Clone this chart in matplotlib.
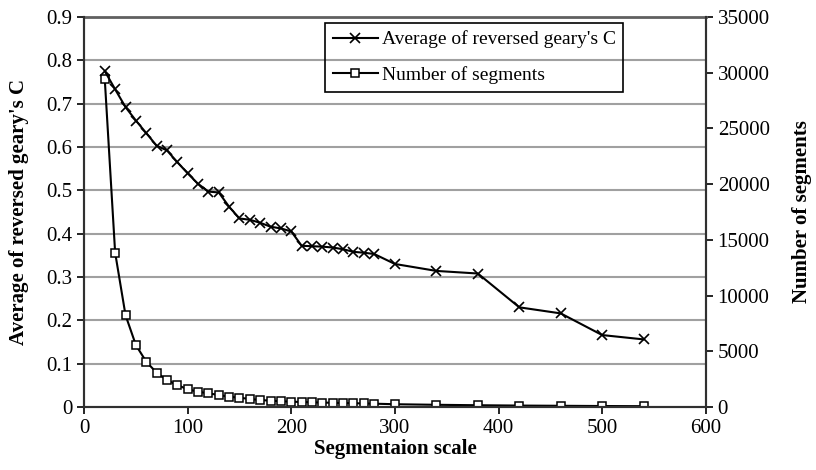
import numpy as np
import matplotlib.pyplot as plt

plt.rcParams['font.family'] = ['Liberation Serif', 'DejaVu Serif']

# segmentation scales
scale = [20, 30, 40, 50, 60, 70, 80, 90, 100, 110, 120, 130, 140, 150, 160,
         170, 180, 190, 200, 210, 220, 230, 240, 250, 260, 270, 280,
         300, 340, 380, 420, 460, 500, 540]

# average of reversed Geary's C (left axis)
geary = [0.775, 0.733, 0.692, 0.661, 0.632, 0.603, 0.592, 0.565, 0.539, 0.515,
         0.497, 0.495, 0.462, 0.435, 0.432, 0.425, 0.416, 0.412, 0.405, 0.372,
         0.371, 0.370, 0.368, 0.364, 0.358, 0.356, 0.353,
         0.330, 0.314, 0.308, 0.230, 0.216, 0.166, 0.156]

# number of segments (right axis)
nseg = [29400, 13850, 8250, 5560, 4070, 3080, 2420, 1970, 1590, 1370,
        1230, 1080, 920, 835, 720, 630, 565, 520, 480, 450,
        420, 400, 380, 360, 340, 320, 300,
        250, 200, 160, 130, 110, 90, 75]

fig = plt.figure(figsize=(8.16, 4.70), dpi=100)
ax = fig.add_axes([0.103, 0.134, 0.762, 0.830])
ax2 = ax.twinx()

ax.set_zorder(ax2.get_zorder() + 1)
ax.patch.set_visible(False)

l1, = ax.plot(scale, geary, color='black', lw=1.5, marker='x', ms=7.5, mew=1.2,
              label="Average of reversed geary's C")
l2, = ax2.plot(scale, nseg, color='black', lw=1.5, marker='s', ms=6,
               mfc='white', mew=1.1, label="Number of segments")

ax.set_xlim(0, 600)
ax.set_ylim(0, 0.9)
ax2.set_ylim(0, 35000)
ax.set_xticks(np.arange(0, 601, 100))
ax.set_yticks(np.arange(0, 0.91, 0.1))
ax.set_yticklabels(['0'] + [f'{v:.1f}' for v in np.arange(0.1, 0.91, 0.1)])
ax2.set_yticks(np.arange(0, 35001, 5000))

for y in np.arange(0.1, 0.91, 0.1):
    ax2.axhline(y / 0.9 * 35000, color='#a0a0a0', lw=1.5, zorder=0)

for a in (ax, ax2):
    for s in a.spines.values():
        s.set_color('#303030')
        s.set_linewidth(1.5)
    a.spines['top'].set_visible(False)
ax2.spines['top'].set_visible(True)
ax2.spines['top'].set_color('#606060')
ax2.spines['top'].set_linewidth(2)

ax.tick_params(axis='both', labelsize=15, direction='out', length=5, width=1.2)
ax2.tick_params(axis='y', labelsize=15, direction='out', length=5, width=1.2)

ax.set_xlabel('Segmentaion scale', fontsize=15, fontweight='bold', labelpad=1)
ax.set_ylabel("Average of reversed geary's C", fontsize=15, fontweight='bold', labelpad=12)
ax2.set_ylabel('Number of segments', fontsize=15, fontweight='bold', labelpad=16)

leg = ax.legend(handles=[l1, l2], loc='upper left', bbox_to_anchor=(0.388, 0.985),
                fontsize=14, frameon=True, fancybox=False, framealpha=1,
                facecolor='none', edgecolor='black', handlelength=2.3,
                handletextpad=0.2, borderpad=0.4, labelspacing=0.9,
                borderaxespad=0)
leg.get_frame().set_linewidth(1.2)

fig.savefig('out.png', dpi=100)
